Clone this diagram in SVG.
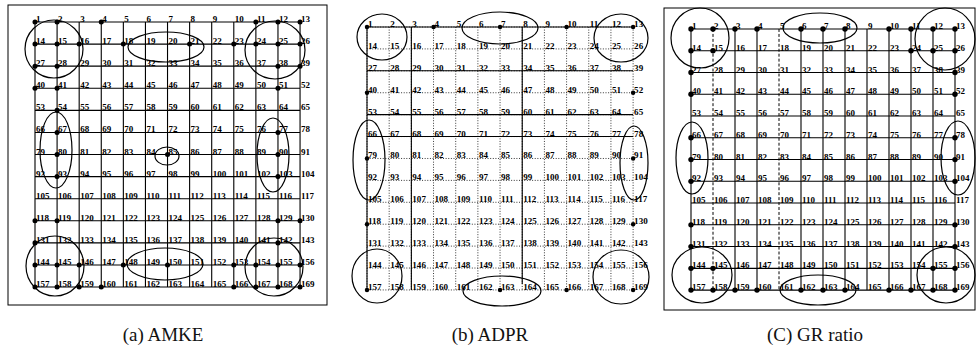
<svg xmlns="http://www.w3.org/2000/svg" xmlns:xlink="http://www.w3.org/1999/xlink" width="977" height="351" viewBox="0 0 977 351">
<style>
.lbl{font-family:"Liberation Serif","DejaVu Serif",serif;font-size:9px;font-weight:bold;fill:#000}
.solid{fill:none;stroke:#000;stroke-width:1.1}
.dotted{fill:none;stroke:#222;stroke-width:0.9;stroke-dasharray:1 1.6}
.dashed{fill:none;stroke:#000;stroke-width:1;stroke-dasharray:3 2}
.ell{fill:none;stroke:#000;stroke-width:1.2}
.frame{fill:none;stroke:#000;stroke-width:1}
.dot{fill:#000}
.cap{font-family:"Liberation Serif","DejaVu Serif",serif;font-size:19px;text-anchor:middle;fill:#111}
</style>
<defs>
<path id="hgrid" d="M0 0H264M0 22H264M0 44H264M0 66H264M0 88H264M0 110H264M0 132H264M0 154H264M0 176H264M0 198H264M0 220H264M0 242H264M0 264H264"/>
<path id="vgrid" d="M0 0V264M22 0V264M44 0V264M66 0V264M88 0V264M110 0V264M132 0V264M154 0V264M176 0V264M198 0V264M220 0V264M242 0V264M264 0V264"/>
</defs>

<!-- Panel (a) AMKE -->
<g id="panel-a">
<rect class="frame" x="8" y="5" width="319" height="300"/>
<g id="connectors-a" transform="translate(35,22) scale(1.004,1.004)">
<use href="#hgrid" class="solid"/>
<use href="#vgrid" class="solid"/>
</g>
<g id="nodes-a" transform="translate(35,22) scale(1.004,1.004)">
<g class="dot">
<circle cx="0" cy="0" r="2.5"/><circle cx="22" cy="0" r="2.5"/><circle cx="66" cy="0" r="2.5"/><circle cx="220" cy="0" r="2.5"/><circle cx="242" cy="0" r="2.5"/><circle cx="264" cy="0" r="2.5"/>
<circle cx="0" cy="22" r="2.5"/><circle cx="22" cy="22" r="2.5"/><circle cx="44" cy="22" r="2.5"/><circle cx="88" cy="22" r="2.5"/><circle cx="154" cy="22" r="2.5"/><circle cx="198" cy="22" r="2.5"/><circle cx="220" cy="22" r="2.5"/><circle cx="242" cy="22" r="2.5"/><circle cx="264" cy="22" r="2.5"/>
<circle cx="0" cy="44" r="2.5"/><circle cx="22" cy="44" r="2.5"/><circle cx="242" cy="44" r="2.5"/><circle cx="264" cy="44" r="2.5"/>
<circle cx="0" cy="66" r="2.5"/><circle cx="22" cy="66" r="2.5"/><circle cx="242" cy="66" r="2.5"/>
<circle cx="22" cy="88" r="2.5"/>
<circle cx="22" cy="110" r="2.5"/><circle cx="242" cy="110" r="2.5"/>
<circle cx="22" cy="132" r="2.5"/><circle cx="132" cy="132" r="2.5"/><circle cx="242" cy="132" r="2.5"/>
<circle cx="22" cy="154" r="2.5"/><circle cx="242" cy="154" r="2.5"/>
<circle cx="0" cy="198" r="2.5"/><circle cx="22" cy="198" r="2.5"/><circle cx="242" cy="198" r="2.5"/><circle cx="264" cy="198" r="2.5"/>
<circle cx="0" cy="220" r="2.5"/><circle cx="242" cy="220" r="2.5"/>
<circle cx="0" cy="242" r="2.5"/><circle cx="22" cy="242" r="2.5"/><circle cx="44" cy="242" r="2.5"/><circle cx="88" cy="242" r="2.5"/><circle cx="132" cy="242" r="2.5"/><circle cx="198" cy="242" r="2.5"/><circle cx="220" cy="242" r="2.5"/><circle cx="242" cy="242" r="2.5"/><circle cx="264" cy="242" r="2.5"/>
<circle cx="0" cy="264" r="2.5"/><circle cx="22" cy="264" r="2.5"/><circle cx="44" cy="264" r="2.5"/><circle cx="66" cy="264" r="2.5"/><circle cx="198" cy="264" r="2.5"/><circle cx="220" cy="264" r="2.5"/><circle cx="242" cy="264" r="2.5"/><circle cx="264" cy="264" r="2.5"/>
</g>
<g class="lbl">
<text y="0"><tspan x="1">1</tspan><tspan x="23">2</tspan><tspan x="45">3</tspan><tspan x="67">4</tspan><tspan x="89">5</tspan><tspan x="111">6</tspan><tspan x="133">7</tspan><tspan x="155">8</tspan><tspan x="177">9</tspan><tspan x="199">10</tspan><tspan x="221">11</tspan><tspan x="243">12</tspan><tspan x="265">13</tspan></text>
<text y="22"><tspan x="1">14</tspan><tspan x="23">15</tspan><tspan x="45">16</tspan><tspan x="67">17</tspan><tspan x="89">18</tspan><tspan x="111">19</tspan><tspan x="133">20</tspan><tspan x="155">21</tspan><tspan x="177">22</tspan><tspan x="199">23</tspan><tspan x="221">24</tspan><tspan x="243">25</tspan><tspan x="265">26</tspan></text>
<text y="44"><tspan x="1">27</tspan><tspan x="23">28</tspan><tspan x="45">29</tspan><tspan x="67">30</tspan><tspan x="89">31</tspan><tspan x="111">32</tspan><tspan x="133">33</tspan><tspan x="155">34</tspan><tspan x="177">35</tspan><tspan x="199">36</tspan><tspan x="221">37</tspan><tspan x="243">38</tspan><tspan x="265">39</tspan></text>
<text y="66"><tspan x="1">40</tspan><tspan x="23">41</tspan><tspan x="45">42</tspan><tspan x="67">43</tspan><tspan x="89">44</tspan><tspan x="111">45</tspan><tspan x="133">46</tspan><tspan x="155">47</tspan><tspan x="177">48</tspan><tspan x="199">49</tspan><tspan x="221">50</tspan><tspan x="243">51</tspan><tspan x="265">52</tspan></text>
<text y="88"><tspan x="1">53</tspan><tspan x="23">54</tspan><tspan x="45">55</tspan><tspan x="67">56</tspan><tspan x="89">57</tspan><tspan x="111">58</tspan><tspan x="133">59</tspan><tspan x="155">60</tspan><tspan x="177">61</tspan><tspan x="199">62</tspan><tspan x="221">63</tspan><tspan x="243">64</tspan><tspan x="265">65</tspan></text>
<text y="110"><tspan x="1">66</tspan><tspan x="23">67</tspan><tspan x="45">68</tspan><tspan x="67">69</tspan><tspan x="89">70</tspan><tspan x="111">71</tspan><tspan x="133">72</tspan><tspan x="155">73</tspan><tspan x="177">74</tspan><tspan x="199">75</tspan><tspan x="221">76</tspan><tspan x="243">77</tspan><tspan x="265">78</tspan></text>
<text y="132"><tspan x="1">79</tspan><tspan x="23">80</tspan><tspan x="45">81</tspan><tspan x="67">82</tspan><tspan x="89">83</tspan><tspan x="111">84</tspan><tspan x="133">85</tspan><tspan x="155">86</tspan><tspan x="177">87</tspan><tspan x="199">88</tspan><tspan x="221">89</tspan><tspan x="243">90</tspan><tspan x="265">91</tspan></text>
<text y="154"><tspan x="1">92</tspan><tspan x="23">93</tspan><tspan x="45">94</tspan><tspan x="67">95</tspan><tspan x="89">96</tspan><tspan x="111">97</tspan><tspan x="133">98</tspan><tspan x="155">99</tspan><tspan x="177">100</tspan><tspan x="199">101</tspan><tspan x="221">102</tspan><tspan x="243">103</tspan><tspan x="265">104</tspan></text>
<text y="176"><tspan x="1">105</tspan><tspan x="23">106</tspan><tspan x="45">107</tspan><tspan x="67">108</tspan><tspan x="89">109</tspan><tspan x="111">110</tspan><tspan x="133">111</tspan><tspan x="155">112</tspan><tspan x="177">113</tspan><tspan x="199">114</tspan><tspan x="221">115</tspan><tspan x="243">116</tspan><tspan x="265">117</tspan></text>
<text y="198"><tspan x="1">118</tspan><tspan x="23">119</tspan><tspan x="45">120</tspan><tspan x="67">121</tspan><tspan x="89">122</tspan><tspan x="111">123</tspan><tspan x="133">124</tspan><tspan x="155">125</tspan><tspan x="177">126</tspan><tspan x="199">127</tspan><tspan x="221">128</tspan><tspan x="243">129</tspan><tspan x="265">130</tspan></text>
<text y="220"><tspan x="1">131</tspan><tspan x="23">132</tspan><tspan x="45">133</tspan><tspan x="67">134</tspan><tspan x="89">135</tspan><tspan x="111">136</tspan><tspan x="133">137</tspan><tspan x="155">138</tspan><tspan x="177">139</tspan><tspan x="199">140</tspan><tspan x="221">141</tspan><tspan x="243">142</tspan><tspan x="265">143</tspan></text>
<text y="242"><tspan x="1">144</tspan><tspan x="23">145</tspan><tspan x="45">146</tspan><tspan x="67">147</tspan><tspan x="89">148</tspan><tspan x="111">149</tspan><tspan x="133">150</tspan><tspan x="155">151</tspan><tspan x="177">152</tspan><tspan x="199">153</tspan><tspan x="221">154</tspan><tspan x="243">155</tspan><tspan x="265">156</tspan></text>
<text y="264"><tspan x="1">157</tspan><tspan x="23">158</tspan><tspan x="45">159</tspan><tspan x="67">160</tspan><tspan x="89">161</tspan><tspan x="111">162</tspan><tspan x="133">163</tspan><tspan x="155">164</tspan><tspan x="177">165</tspan><tspan x="199">166</tspan><tspan x="221">167</tspan><tspan x="243">168</tspan><tspan x="265">169</tspan></text>
</g>
</g>
<g id="groups-a" class="ell">
<ellipse cx="54" cy="49" rx="29" ry="29"/>
<ellipse cx="166" cy="47" rx="38" ry="15"/>
<ellipse cx="275" cy="50" rx="30" ry="29"/>
<ellipse cx="56" cy="150" rx="16" ry="38"/>
<ellipse cx="167" cy="156" rx="12" ry="9"/>
<ellipse cx="273" cy="155" rx="16" ry="37"/>
<ellipse cx="55" cy="266" rx="29" ry="30"/>
<ellipse cx="165" cy="264" rx="38" ry="16"/>
<ellipse cx="274" cy="267" rx="29" ry="29"/>
</g>
<text class="cap" x="163" y="341">(a) AMKE</text>
</g>

<!-- Panel (b) ADPR -->
<g id="panel-b">
<g id="connectors-b" transform="translate(367,27) scale(1.008,0.996)">
<use href="#hgrid" class="dotted"/>
<use href="#vgrid" class="dotted"/>
<path class="solid" d="M0 0H264M0 44H264M0 88H264M0 110H264M0 0V264M44 0V264M154 0V258"/>
</g>
<g id="nodes-b" transform="translate(367,27) scale(1.008,0.996)">
<g class="dot">
<circle cx="0" cy="0" r="2.2"/><circle cx="66" cy="0" r="2.2"/><circle cx="132" cy="0" r="2.2"/><circle cx="198" cy="0" r="2.2"/><circle cx="264" cy="0" r="2.2"/>
<circle cx="0" cy="66" r="2.2"/><circle cx="264" cy="66" r="2.2"/>
<circle cx="0" cy="132" r="2.2"/><circle cx="264" cy="132" r="2.2"/>
<circle cx="0" cy="198" r="2.2"/><circle cx="264" cy="198" r="2.2"/>
<circle cx="0" cy="264" r="2.2"/><circle cx="132" cy="264" r="2.2"/><circle cx="198" cy="264" r="2.2"/><circle cx="264" cy="264" r="2.2"/>
</g>
<g class="lbl">
<text y="0"><tspan x="1">1</tspan><tspan x="23">2</tspan><tspan x="45">3</tspan><tspan x="67">4</tspan><tspan x="89">5</tspan><tspan x="111">6</tspan><tspan x="133">7</tspan><tspan x="155">8</tspan><tspan x="177">9</tspan><tspan x="199">10</tspan><tspan x="221">11</tspan><tspan x="243">12</tspan><tspan x="265">13</tspan></text>
<text y="22"><tspan x="1">14</tspan><tspan x="23">15</tspan><tspan x="45">16</tspan><tspan x="67">17</tspan><tspan x="89">18</tspan><tspan x="111">19</tspan><tspan x="133">20</tspan><tspan x="155">21</tspan><tspan x="177">22</tspan><tspan x="199">23</tspan><tspan x="221">24</tspan><tspan x="243">25</tspan><tspan x="265">26</tspan></text>
<text y="44"><tspan x="1">27</tspan><tspan x="23">28</tspan><tspan x="45">29</tspan><tspan x="67">30</tspan><tspan x="89">31</tspan><tspan x="111">32</tspan><tspan x="133">33</tspan><tspan x="155">34</tspan><tspan x="177">35</tspan><tspan x="199">36</tspan><tspan x="221">37</tspan><tspan x="243">38</tspan><tspan x="265">39</tspan></text>
<text y="66"><tspan x="1">40</tspan><tspan x="23">41</tspan><tspan x="45">42</tspan><tspan x="67">43</tspan><tspan x="89">44</tspan><tspan x="111">45</tspan><tspan x="133">46</tspan><tspan x="155">47</tspan><tspan x="177">48</tspan><tspan x="199">49</tspan><tspan x="221">50</tspan><tspan x="243">51</tspan><tspan x="265">52</tspan></text>
<text y="88"><tspan x="1">53</tspan><tspan x="23">54</tspan><tspan x="45">55</tspan><tspan x="67">56</tspan><tspan x="89">57</tspan><tspan x="111">58</tspan><tspan x="133">59</tspan><tspan x="155">60</tspan><tspan x="177">61</tspan><tspan x="199">62</tspan><tspan x="221">63</tspan><tspan x="243">64</tspan><tspan x="265">65</tspan></text>
<text y="110"><tspan x="1">66</tspan><tspan x="23">67</tspan><tspan x="45">68</tspan><tspan x="67">69</tspan><tspan x="89">70</tspan><tspan x="111">71</tspan><tspan x="133">72</tspan><tspan x="155">73</tspan><tspan x="177">74</tspan><tspan x="199">75</tspan><tspan x="221">76</tspan><tspan x="243">77</tspan><tspan x="265">78</tspan></text>
<text y="132"><tspan x="1">79</tspan><tspan x="23">80</tspan><tspan x="45">81</tspan><tspan x="67">82</tspan><tspan x="89">83</tspan><tspan x="111">84</tspan><tspan x="133">85</tspan><tspan x="155">86</tspan><tspan x="177">87</tspan><tspan x="199">88</tspan><tspan x="221">89</tspan><tspan x="243">90</tspan><tspan x="265">91</tspan></text>
<text y="154"><tspan x="1">92</tspan><tspan x="23">93</tspan><tspan x="45">94</tspan><tspan x="67">95</tspan><tspan x="89">96</tspan><tspan x="111">97</tspan><tspan x="133">98</tspan><tspan x="155">99</tspan><tspan x="177">100</tspan><tspan x="199">101</tspan><tspan x="221">102</tspan><tspan x="243">103</tspan><tspan x="265">104</tspan></text>
<text y="176"><tspan x="1">105</tspan><tspan x="23">106</tspan><tspan x="45">107</tspan><tspan x="67">108</tspan><tspan x="89">109</tspan><tspan x="111">110</tspan><tspan x="133">111</tspan><tspan x="155">112</tspan><tspan x="177">113</tspan><tspan x="199">114</tspan><tspan x="221">115</tspan><tspan x="243">116</tspan><tspan x="265">117</tspan></text>
<text y="198"><tspan x="1">118</tspan><tspan x="23">119</tspan><tspan x="45">120</tspan><tspan x="67">121</tspan><tspan x="89">122</tspan><tspan x="111">123</tspan><tspan x="133">124</tspan><tspan x="155">125</tspan><tspan x="177">126</tspan><tspan x="199">127</tspan><tspan x="221">128</tspan><tspan x="243">129</tspan><tspan x="265">130</tspan></text>
<text y="220"><tspan x="1">131</tspan><tspan x="23">132</tspan><tspan x="45">133</tspan><tspan x="67">134</tspan><tspan x="89">135</tspan><tspan x="111">136</tspan><tspan x="133">137</tspan><tspan x="155">138</tspan><tspan x="177">139</tspan><tspan x="199">140</tspan><tspan x="221">141</tspan><tspan x="243">142</tspan><tspan x="265">143</tspan></text>
<text y="242"><tspan x="1">144</tspan><tspan x="23">145</tspan><tspan x="45">146</tspan><tspan x="67">147</tspan><tspan x="89">148</tspan><tspan x="111">149</tspan><tspan x="133">150</tspan><tspan x="155">151</tspan><tspan x="177">152</tspan><tspan x="199">153</tspan><tspan x="221">154</tspan><tspan x="243">155</tspan><tspan x="265">156</tspan></text>
<text y="264"><tspan x="1">157</tspan><tspan x="23">158</tspan><tspan x="45">159</tspan><tspan x="67">160</tspan><tspan x="89">161</tspan><tspan x="111">162</tspan><tspan x="133">163</tspan><tspan x="155">164</tspan><tspan x="177">165</tspan><tspan x="199">166</tspan><tspan x="221">167</tspan><tspan x="243">168</tspan><tspan x="265">169</tspan></text>
</g>
</g>
<g id="groups-b" class="ell">
<ellipse cx="382" cy="37" rx="25" ry="23"/>
<ellipse cx="500" cy="28" rx="38" ry="16"/>
<ellipse cx="621" cy="38" rx="27" ry="24"/>
<ellipse cx="369" cy="160" rx="16" ry="40"/>
<ellipse cx="634" cy="163" rx="14" ry="37"/>
<ellipse cx="377" cy="276" rx="25" ry="27"/>
<ellipse cx="502" cy="291" rx="39" ry="15"/>
<ellipse cx="621" cy="277" rx="28" ry="27"/>
</g>
<text class="cap" x="490" y="341">(b) ADPR</text>
</g>

<!-- Panel (c) GR ratio -->
<g id="panel-c">
<rect class="frame" x="664" y="8" width="311" height="302"/>
<g id="connectors-c" transform="translate(691,29) scale(1,0.989)">
<use href="#hgrid" class="solid"/>
<path class="solid" d="M0 0V264M44 0V264M66 0V264M110 0V264M132 0V264M154 0V264M176 0V264M198 0V264M220 0V264M242 0V264M264 0V264"/>
<path class="dashed" d="M22 0V264M88 0V264"/>
</g>
<g id="nodes-c" transform="translate(691,29) scale(1,0.989)">
<g class="dot">
<circle cx="0" cy="0" r="2.7"/><circle cx="22" cy="0" r="2.7"/><circle cx="44" cy="0" r="2.7"/><circle cx="66" cy="0" r="2.7"/><circle cx="110" cy="0" r="2.7"/><circle cx="132" cy="0" r="2.7"/><circle cx="154" cy="0" r="2.7"/><circle cx="198" cy="0" r="2.7"/><circle cx="220" cy="0" r="2.7"/><circle cx="242" cy="0" r="2.7"/><circle cx="264" cy="0" r="2.7"/>
<circle cx="0" cy="22" r="2.7"/><circle cx="22" cy="22" r="2.7"/><circle cx="220" cy="22" r="2.7"/><circle cx="242" cy="22" r="2.7"/><circle cx="264" cy="22" r="2.7"/>
<circle cx="0" cy="44" r="2.7"/><circle cx="264" cy="44" r="2.7"/>
<circle cx="0" cy="66" r="2.7"/><circle cx="264" cy="66" r="2.7"/>
<circle cx="0" cy="110" r="2.7"/><circle cx="264" cy="110" r="2.7"/>
<circle cx="0" cy="132" r="2.7"/><circle cx="264" cy="132" r="2.7"/>
<circle cx="0" cy="154" r="2.7"/><circle cx="264" cy="154" r="2.7"/>
<circle cx="0" cy="198" r="2.7"/><circle cx="264" cy="198" r="2.7"/>
<circle cx="0" cy="220" r="2.7"/><circle cx="264" cy="220" r="2.7"/>
<circle cx="0" cy="242" r="2.7"/><circle cx="22" cy="242" r="2.7"/><circle cx="242" cy="242" r="2.7"/><circle cx="264" cy="242" r="2.7"/>
<circle cx="0" cy="264" r="2.7"/><circle cx="22" cy="264" r="2.7"/><circle cx="44" cy="264" r="2.7"/><circle cx="66" cy="264" r="2.7"/><circle cx="110" cy="264" r="2.7"/><circle cx="132" cy="264" r="2.7"/><circle cx="154" cy="264" r="2.7"/><circle cx="198" cy="264" r="2.7"/><circle cx="220" cy="264" r="2.7"/><circle cx="242" cy="264" r="2.7"/><circle cx="264" cy="264" r="2.7"/>
</g>
<g class="lbl">
<text y="0"><tspan x="1">1</tspan><tspan x="23">2</tspan><tspan x="45">3</tspan><tspan x="67">4</tspan><tspan x="89">5</tspan><tspan x="111">6</tspan><tspan x="133">7</tspan><tspan x="155">8</tspan><tspan x="177">9</tspan><tspan x="199">10</tspan><tspan x="221">11</tspan><tspan x="243">12</tspan><tspan x="265">13</tspan></text>
<text y="22"><tspan x="1">14</tspan><tspan x="23">15</tspan><tspan x="45">16</tspan><tspan x="67">17</tspan><tspan x="89">18</tspan><tspan x="111">19</tspan><tspan x="133">20</tspan><tspan x="155">21</tspan><tspan x="177">22</tspan><tspan x="199">23</tspan><tspan x="221">24</tspan><tspan x="243">25</tspan><tspan x="265">26</tspan></text>
<text y="44"><tspan x="1">27</tspan><tspan x="23">28</tspan><tspan x="45">29</tspan><tspan x="67">30</tspan><tspan x="89">31</tspan><tspan x="111">32</tspan><tspan x="133">33</tspan><tspan x="155">34</tspan><tspan x="177">35</tspan><tspan x="199">36</tspan><tspan x="221">37</tspan><tspan x="243">38</tspan><tspan x="265">39</tspan></text>
<text y="66"><tspan x="1">40</tspan><tspan x="23">41</tspan><tspan x="45">42</tspan><tspan x="67">43</tspan><tspan x="89">44</tspan><tspan x="111">45</tspan><tspan x="133">46</tspan><tspan x="155">47</tspan><tspan x="177">48</tspan><tspan x="199">49</tspan><tspan x="221">50</tspan><tspan x="243">51</tspan><tspan x="265">52</tspan></text>
<text y="88"><tspan x="1">53</tspan><tspan x="23">54</tspan><tspan x="45">55</tspan><tspan x="67">56</tspan><tspan x="89">57</tspan><tspan x="111">58</tspan><tspan x="133">59</tspan><tspan x="155">60</tspan><tspan x="177">61</tspan><tspan x="199">62</tspan><tspan x="221">63</tspan><tspan x="243">64</tspan><tspan x="265">65</tspan></text>
<text y="110"><tspan x="1">66</tspan><tspan x="23">67</tspan><tspan x="45">68</tspan><tspan x="67">69</tspan><tspan x="89">70</tspan><tspan x="111">71</tspan><tspan x="133">72</tspan><tspan x="155">73</tspan><tspan x="177">74</tspan><tspan x="199">75</tspan><tspan x="221">76</tspan><tspan x="243">77</tspan><tspan x="265">78</tspan></text>
<text y="132"><tspan x="1">79</tspan><tspan x="23">80</tspan><tspan x="45">81</tspan><tspan x="67">82</tspan><tspan x="89">83</tspan><tspan x="111">84</tspan><tspan x="133">85</tspan><tspan x="155">86</tspan><tspan x="177">87</tspan><tspan x="199">88</tspan><tspan x="221">89</tspan><tspan x="243">90</tspan><tspan x="265">91</tspan></text>
<text y="154"><tspan x="1">92</tspan><tspan x="23">93</tspan><tspan x="45">94</tspan><tspan x="67">95</tspan><tspan x="89">96</tspan><tspan x="111">97</tspan><tspan x="133">98</tspan><tspan x="155">99</tspan><tspan x="177">100</tspan><tspan x="199">101</tspan><tspan x="221">102</tspan><tspan x="243">103</tspan><tspan x="265">104</tspan></text>
<text y="176"><tspan x="1">105</tspan><tspan x="23">106</tspan><tspan x="45">107</tspan><tspan x="67">108</tspan><tspan x="89">109</tspan><tspan x="111">110</tspan><tspan x="133">111</tspan><tspan x="155">112</tspan><tspan x="177">113</tspan><tspan x="199">114</tspan><tspan x="221">115</tspan><tspan x="243">116</tspan><tspan x="265">117</tspan></text>
<text y="198"><tspan x="1">118</tspan><tspan x="23">119</tspan><tspan x="45">120</tspan><tspan x="67">121</tspan><tspan x="89">122</tspan><tspan x="111">123</tspan><tspan x="133">124</tspan><tspan x="155">125</tspan><tspan x="177">126</tspan><tspan x="199">127</tspan><tspan x="221">128</tspan><tspan x="243">129</tspan><tspan x="265">130</tspan></text>
<text y="220"><tspan x="1">131</tspan><tspan x="23">132</tspan><tspan x="45">133</tspan><tspan x="67">134</tspan><tspan x="89">135</tspan><tspan x="111">136</tspan><tspan x="133">137</tspan><tspan x="155">138</tspan><tspan x="177">139</tspan><tspan x="199">140</tspan><tspan x="221">141</tspan><tspan x="243">142</tspan><tspan x="265">143</tspan></text>
<text y="242"><tspan x="1">144</tspan><tspan x="23">145</tspan><tspan x="45">146</tspan><tspan x="67">147</tspan><tspan x="89">148</tspan><tspan x="111">149</tspan><tspan x="133">150</tspan><tspan x="155">151</tspan><tspan x="177">152</tspan><tspan x="199">153</tspan><tspan x="221">154</tspan><tspan x="243">155</tspan><tspan x="265">156</tspan></text>
<text y="264"><tspan x="1">157</tspan><tspan x="23">158</tspan><tspan x="45">159</tspan><tspan x="67">160</tspan><tspan x="89">161</tspan><tspan x="111">162</tspan><tspan x="133">163</tspan><tspan x="155">164</tspan><tspan x="177">165</tspan><tspan x="199">166</tspan><tspan x="221">167</tspan><tspan x="243">168</tspan><tspan x="265">169</tspan></text>
</g>
</g>
<g id="groups-c" class="ell">
<ellipse cx="700" cy="38" rx="29" ry="30"/>
<ellipse cx="820" cy="28" rx="37" ry="15"/>
<ellipse cx="945" cy="39" rx="30" ry="31"/>
<ellipse cx="692" cy="158" rx="16" ry="36"/>
<ellipse cx="958" cy="158" rx="17" ry="37"/>
<ellipse cx="702" cy="275" rx="30" ry="28"/>
<ellipse cx="818" cy="290" rx="38" ry="15"/>
<ellipse cx="946" cy="275" rx="29" ry="28"/>
</g>
<text class="cap" x="815" y="341">(C) GR ratio</text>
</g>
</svg>
